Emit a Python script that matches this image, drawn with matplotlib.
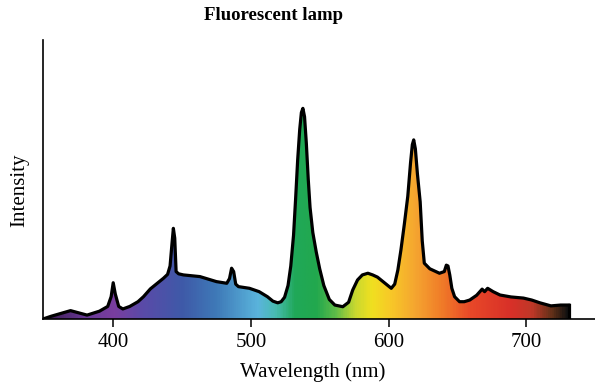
import numpy as np
import matplotlib.pyplot as plt
from matplotlib.colors import LinearSegmentedColormap

plt.rcParams['font.family'] = ['Liberation Serif', 'DejaVu Serif']

# Spectrum (wavelength in nm, relative intensity)
wavelength = [349, 355, 362, 369, 375, 381, 390, 396, 398.5, 400, 401.5, 404, 407,
              412, 418, 422, 427, 432, 436.5, 439.5, 441.3, 442.7, 443.7, 444.7, 445.7,
              447.5, 451, 457, 463, 469, 475, 482.5, 484.5, 486, 487.5, 489, 491,
              499, 506, 512, 516, 519.5, 522, 524.5, 527, 529, 531, 532.5, 534, 535.5,
              536.7, 537.8, 539, 540.3, 541.7, 543, 545, 547.5, 550, 553, 557, 561,
              566.8, 571, 574, 577.5, 581, 585, 588.5, 592, 596, 602, 604.5, 606.8,
              609, 611.5, 614, 616, 617.3, 618.3, 619.5, 621, 623, 624.5, 626, 630,
              637, 640.5, 642, 643.2, 644.5, 646, 648, 651.6, 655, 659, 664, 668,
              669.8, 672, 676, 681, 689, 698, 704, 710, 718, 725, 731]
intensity = [0.0, 0.01, 0.02, 0.03, 0.022, 0.014, 0.028, 0.045, 0.08, 0.13, 0.09, 0.045, 0.036,
             0.045, 0.062, 0.08, 0.108, 0.128, 0.146, 0.16, 0.19, 0.27, 0.325, 0.29, 0.17,
             0.162, 0.158, 0.155, 0.152, 0.143, 0.134, 0.128, 0.145, 0.182, 0.17, 0.125, 0.116,
             0.11, 0.098, 0.08, 0.064, 0.058, 0.062, 0.078, 0.12, 0.19, 0.3, 0.43, 0.57, 0.68,
             0.74, 0.755, 0.725, 0.63, 0.5, 0.4, 0.31, 0.24, 0.18, 0.12, 0.07, 0.05,
             0.044, 0.06, 0.104, 0.14, 0.158, 0.164, 0.158, 0.15, 0.134, 0.11, 0.125, 0.176,
             0.247, 0.34, 0.44, 0.56, 0.625, 0.642, 0.61, 0.52, 0.42, 0.28, 0.2, 0.18,
             0.164, 0.17, 0.193, 0.19, 0.158, 0.11, 0.08, 0.062, 0.062, 0.068, 0.085, 0.107,
             0.098, 0.11, 0.098, 0.086, 0.079, 0.075, 0.068, 0.058, 0.047, 0.05, 0.05]

# Colour of the fill along the spectrum
stop_nm = [349, 380, 400, 420, 450, 475, 505, 518, 532, 548, 562, 576, 588, 602,
           620, 640, 660, 690, 705, 720, 731]
stop_col = ['#3a1a50', '#6a3a98', '#7a3ea0', '#5b4aa8', '#3e5aa8', '#3f7ab8', '#5ab4dc',
            '#48bcb0', '#20a858', '#22a84e', '#60bc48', '#c8d830', '#f0e020', '#f8c828',
            '#f5a530', '#f07a28', '#e84828', '#d83028', '#c03828', '#603018', '#101010']

xticks = [400, 500, 600, 700]

wl = np.array(wavelength)
iy = np.array(intensity)

fig = plt.figure(figsize=(5.95, 3.87), dpi=100)
ax = fig.add_axes([43/595, 1-319/387, 1-43/595, 279/387])

pos = [(s - stop_nm[0]) / (stop_nm[-1] - stop_nm[0]) for s in stop_nm]
cmap = LinearSegmentedColormap.from_list('spec', list(zip(pos, stop_col)))

poly = ax.fill_between(wl, 0, iy, facecolor='none', edgecolor='none')
grad = np.linspace(0, 1, 600).reshape(1, -1)
im = ax.imshow(grad, cmap=cmap, aspect='auto', extent=[wl[0], wl[-1], 0, 1],
               origin='lower', zorder=1)
im.set_clip_path(poly.get_paths()[0], transform=ax.transData)

ax.plot(wl, iy, color='black', lw=2.3, zorder=3, solid_joinstyle='round')
ax.plot([wl[-1], wl[-1]], [0, iy[-1]], color='black', lw=2.3, zorder=3)

ax.set_xlim(349, 750)
ax.set_ylim(0, 1)
ax.set_xticks(xticks)
ax.set_yticks([])
ax.tick_params(axis='x', direction='out', length=6, width=1.1, labelsize=15, pad=4)
for s in ['top', 'right']:
    ax.spines[s].set_visible(False)
for s in ['left', 'bottom']:
    ax.spines[s].set_linewidth(1.2)

ax.set_xlabel('Wavelength (nm)', fontsize=15, va='center')
ax.xaxis.set_label_coords((313-43)/552, -(372-319)/279)
ax.set_ylabel('Intensity', fontsize=15, va='center')
ax.yaxis.set_label_coords(-(43-20)/552, (319-190)/279)
fig.text(274/595, 1-15/387, 'Fluorescent lamp', fontsize=13.5, fontweight='bold',
         ha='center', va='center')

fig.savefig('out.png', dpi=100)
